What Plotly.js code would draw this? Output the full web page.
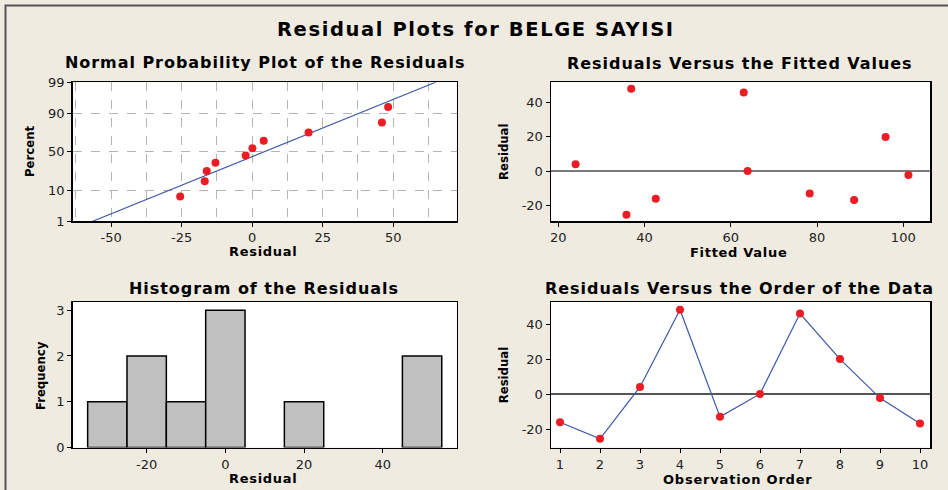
<!DOCTYPE html>
<html>
<head>
<meta charset="utf-8">
<script src="https://cdn.plot.ly/plotly-3.0.1.min.js"></script>
<style>
html,body{margin:0;padding:0;background:#f0ebe1;}
#chart{width:948px;height:490px;}
</style>
</head>
<body>
<div id="chart"></div>
<script>
// ---- data ----
var observationOrder = [1, 2, 3, 4, 5, 6, 7, 8, 9, 10];
var residuals = [-16.1, -25.5, 4.1, 48.2, -13.0, 0.1, 46.0, 20.0, -2.3, -16.8];
var fittedValues = [42.6, 35.8, 24.0, 36.9, 78.3, 63.9, 63.0, 95.9, 101.2, 88.6];
var probPercent = [6.7, 16.3, 26.0, 35.6, 45.2, 54.8, 64.4, 74.0, 83.7, 93.3];
var fitLineResidual = [-56.5, 65.0];
var fitLinePercent = [1, 99];
var percentTicks = [1, 10, 50, 90, 99];
var percentTickLabels = ['1', '10', '50', '90', '99'];
var probResidualTicks = [-50, -25, 0, 25, 50];
var fittedTicks = [20, 40, 60, 80, 100];
var residualTicks = [-20, 0, 20, 40];
var histResidualTicks = [-20, 0, 20, 40];
var frequencyTicks = [0, 1, 2, 3];
var histStart = -35, histEnd = 55, histSize = 10;

// inverse normal CDF (probability-paper scale)
function probit(p){
  var a=[-3.969683028665376e+01,2.209460984245205e+02,-2.759285104469687e+02,1.383577518672690e+02,-3.066479806614716e+01,2.506628277459239e+00];
  var b=[-5.447609879822406e+01,1.615858368580409e+02,-1.556989798598866e+02,6.680131188771972e+01,-1.328068155288572e+01];
  var c=[-7.784894002430293e-03,-3.223964580411365e-01,-2.400758277161838e+00,-2.549732539343734e+00,4.374664141464968e+00,2.938163982698783e+00];
  var d=[7.784695709041462e-03,3.224671290700398e-01,2.445134137142996e+00,3.754408661907416e+00];
  var pl=0.02425, ph=1-pl, q, r;
  if(p<pl){q=Math.sqrt(-2*Math.log(p));return (((((c[0]*q+c[1])*q+c[2])*q+c[3])*q+c[4])*q+c[5])/((((d[0]*q+d[1])*q+d[2])*q+d[3])*q+1);}
  if(p<=ph){q=p-0.5;r=q*q;return (((((a[0]*r+a[1])*r+a[2])*r+a[3])*r+a[4])*r+a[5])*q/(((((b[0]*r+b[1])*r+b[2])*r+b[3])*r+b[4])*r+1);}
  q=Math.sqrt(-2*Math.log(1-p));return -(((((c[0]*q+c[1])*q+c[2])*q+c[3])*q+c[4])*q+c[5])/((((d[0]*q+d[1])*q+d[2])*q+d[3])*q+1);
}
function z(pct){ return probit(pct/100); }
function labels(arr){ return arr.map(function(v){ return String(v); }); }

var sortedResiduals = residuals.slice().sort(function(a,b){return a-b;});

var RED = '#ec1c24', BLUE = '#3a56a8';
var W = 948, H = 490;
function px(x){ return x / W; }
function py(y){ return 1 - y / H; }

var FONT = 'DejaVu Sans, Verdana, sans-serif';
var COND = 'DejaVu Sans Condensed, Liberation Sans Narrow, DejaVu Sans, sans-serif';

var traces = [
  { x: fitLineResidual, y: fitLinePercent.map(z), type: 'scatter', mode: 'lines',
    line: {color: BLUE, width: 1.2}, xaxis: 'x', yaxis: 'y', hoverinfo: 'skip' },
  { x: sortedResiduals, y: probPercent.map(z), type: 'scatter', mode: 'markers',
    marker: {color: RED, size: 8}, xaxis: 'x', yaxis: 'y' },
  { x: fittedValues, y: residuals, type: 'scatter', mode: 'markers',
    marker: {color: RED, size: 8}, xaxis: 'x2', yaxis: 'y2' },
  { x: residuals, type: 'histogram', xbins: {start: histStart, end: histEnd, size: histSize},
    marker: {color: '#c0c0c0', line: {color: '#000', width: 1.5}}, xaxis: 'x3', yaxis: 'y3' },
  { x: observationOrder, y: residuals, type: 'scatter', mode: 'lines+markers',
    line: {color: BLUE, width: 1.2}, marker: {color: RED, size: 8}, xaxis: 'x4', yaxis: 'y4' }
];

function ax(extra){
  var base = {
    showline: true, mirror: true, linecolor: '#000', linewidth: 1.5,
    ticks: 'outside', ticklen: 4, tickcolor: '#000', tickwidth: 1,
    showgrid: false, zeroline: false,
    tickfont: {family: FONT, size: 13, color: '#222'},
    fixedrange: true
  };
  for (var k in extra) base[k] = extra[k];
  return base;
}

var colL = [px(72.7), px(456.7)], colR = [px(551), px(930)];
var rowT = [py(221.3), py(82.3)], rowB = [py(447.5), py(302)];

var layout = {
  width: W, height: H,
  margin: {l: 0, r: 0, t: 0, b: 0},
  paper_bgcolor: '#f0ebe1', plot_bgcolor: '#ffffff',
  showlegend: false, bargap: 0,
  xaxis: ax({domain: colL, anchor: 'y', range: [-63.6, 72.5], tickvals: probResidualTicks, ticktext: labels(probResidualTicks),
    showgrid: true, gridcolor: '#b4b4b4', griddash: 'dash', gridwidth: 1,
    minor: {dtick: 12.5, tick0: 0, showgrid: true, gridcolor: '#b4b4b4', griddash: 'dash', gridwidth: 1, ticks: ''}}),
  yaxis: ax({domain: rowT, anchor: 'x', range: [z(1), z(99)], tickvals: percentTicks.map(z), ticktext: percentTickLabels,
    showgrid: true, gridcolor: '#b4b4b4', griddash: 'dash', gridwidth: 1}),
  xaxis2: ax({domain: colR, anchor: 'y2', range: [18.3, 106.2], tickvals: fittedTicks, ticktext: labels(fittedTicks)}),
  yaxis2: ax({domain: rowT, anchor: 'x2', range: [-29.3, 51.9], tickvals: residualTicks, ticktext: labels(residualTicks),
    zeroline: true, zerolinecolor: '#7a7a7a', zerolinewidth: 1.5}),
  xaxis3: ax({domain: colL, anchor: 'y3', range: [-38.8, 58.8], tickvals: histResidualTicks, ticktext: labels(histResidualTicks)}),
  yaxis3: ax({domain: rowB, anchor: 'x3', range: [0, 3.18], tickvals: frequencyTicks, ticktext: labels(frequencyTicks)}),
  xaxis4: ax({domain: colR, anchor: 'y4', range: [0.775, 10.25], tickvals: observationOrder, ticktext: labels(observationOrder)}),
  yaxis4: ax({domain: rowB, anchor: 'x4', range: [-30.5, 52.6], tickvals: residualTicks, ticktext: labels(residualTicks),
    zeroline: true, zerolinecolor: '#555555', zerolinewidth: 1.5}),
  shapes: [
    {type: 'rect', xref: 'paper', yref: 'paper', x0: px(5.5), x1: 1.05, y0: -0.05, y1: py(5.5),
     line: {color: '#555', width: 2}, fillcolor: 'rgba(0,0,0,0)', layer: 'below'}
  ],
  annotations: []
};

function ann(text, x, y, size, family, spacing, angle){
  layout.annotations.push({text: '<b><span style="letter-spacing:' + spacing + 'px">' + text + '</span></b>',
    xref: 'paper', yref: 'paper',
    x: px(x), y: py(y), xanchor: 'center', yanchor: 'middle', showarrow: false,
    textangle: angle || 0, font: {family: family, size: size, color: '#000'}});
}
ann('Residual Plots for BELGE SAYISI', 476, 30, 19.5, FONT, 1.6);
ann('Normal Probability Plot of the Residuals', 265, 62.7, 16, FONT, 0.95);
ann('Residuals Versus the Fitted Values', 740, 63.3, 16, FONT, 0.95);
ann('Histogram of the Residuals', 264, 288.3, 16, FONT, 0.95);
ann('Residuals Versus the Order of the Data', 739.5, 288.3, 16, FONT, 0.95);
ann('Residual', 262.7, 251.7, 13, FONT, 0.7);
ann('Fitted Value', 738.3, 252.3, 13, FONT, 0.7);
ann('Residual', 262.7, 478.3, 13, FONT, 0.7);
ann('Observation Order', 738, 479, 13, FONT, 0.8);
ann('Percent', 30, 152, 13, COND, 0, -90);
ann('Residual', 503.3, 151.7, 13, COND, 0, -90);
ann('Frequency', 40, 376, 13, COND, 0, -90);
ann('Residual', 503.3, 375, 13, COND, 0, -90);

Plotly.newPlot('chart', traces, layout, {staticPlot: true, displayModeBar: false});
</script>
</body>
</html>
